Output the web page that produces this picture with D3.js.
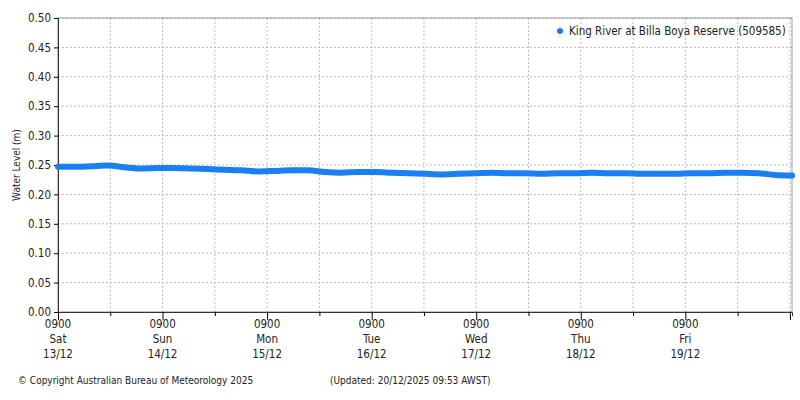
<!DOCTYPE html>
<html><head><meta charset="utf-8">
<script src="https://cdn.jsdelivr.net/npm/d3@7"></script>
<style>body{margin:0;background:#fff}text{font-family:"DejaVu Sans Condensed","DejaVu Sans",sans-serif}</style>
</head><body><svg id="c" width="800" height="400"></svg>
<script>
const seriesName = "King River at Billa Boya Reserve (509585)";
// readings every 6 hours starting 13/12 09:00
const levels = [0.247,0.247,0.248,0.249,0.246,0.244,0.245,0.245,0.244,0.243,0.242,0.241,0.239,0.240,0.241,0.241,0.238,0.237,0.238,0.238,0.237,0.236,0.235,0.234,0.235,0.236,0.237,0.236,0.236,0.235,0.236,0.236,0.237,0.236,0.236,0.235,0.235,0.235,0.236,0.236,0.237,0.237,0.236,0.233,0.232];
const yTicks = [0,0.05,0.10,0.15,0.20,0.25,0.30,0.35,0.40,0.45,0.50];
const dayLabels = [["Sat","13/12"],["Sun","14/12"],["Mon","15/12"],["Tue","16/12"],["Wed","17/12"],["Thu","18/12"],["Fri","19/12"]];

const svg = d3.select("#c");
const L=58,R=792,T=18,B=312;
const x = d3.scaleLinear().domain([0,7.02*24]).range([L,R]);
const y = d3.scaleLinear().domain([0,0.5]).range([B,T]);
const g = svg.append("g");
// grid
g.selectAll(".hg").data(yTicks).join("line").attr("x1",L).attr("x2",R).attr("y1",d=>y(d)).attr("y2",d=>y(d)).attr("stroke","#bbb").attr("stroke-dasharray","2,2");
const xt = dayLabels.map((d,i)=>i*24);
const sub=[];for(let h=0;h<=168;h+=12)sub.push(h);
g.selectAll(".vg").data(sub).join("line").attr("y1",T).attr("y2",B).attr("x1",d=>x(d)).attr("x2",d=>x(d)).attr("stroke","#bbb").attr("stroke-dasharray","2,2");
g.append("rect").attr("x",L).attr("y",T).attr("width",R-L).attr("height",B-T).attr("fill","none").attr("stroke","#999");
// axes
const ya = svg.append("g").attr("transform",`translate(${L},0)`).call(d3.axisLeft(y).tickValues(yTicks).tickFormat(d3.format(".2f")).tickSize(4));
ya.select(".domain").attr("stroke","#333");
ya.selectAll("text").attr("font-size",11.5).attr("fill","#222");
const xa = svg.append("g").attr("transform",`translate(0,${B})`).call(d3.axisBottom(x).tickValues(sub).tickFormat("").tickSize(4));
xa.select(".domain").attr("stroke","#333");
xa.selectAll(".tick").filter(d=>d%24==0).select("line").attr("y2",8);
dayLabels.forEach((d,i)=>{
  const t=svg.append("text").attr("x",x(i*24)).attr("y",B+16).attr("text-anchor","middle").attr("font-size",11.5).attr("fill","#222");
  ["0900",d[0],d[1]].forEach((s,k)=>t.append("tspan").attr("x",x(i*24)).attr("dy",k?15:0).text(s));
});
svg.append("text").attr("transform","translate(20,165) rotate(-90)").attr("text-anchor","middle").attr("font-size",10).attr("font-family","DejaVu Sans Mono").attr("fill","#222").text("Water Level (m)");
// data
const pts = levels.map((v,i)=>[i*3*24/24*1.25 ,v]);
const data = levels.map((v,i)=>({h:i*(168.5/(levels.length-1)),v}));
svg.append("path").datum(data).attr("fill","none").attr("stroke","#1a7ff0").attr("stroke-width",6).attr("stroke-linecap","round")
  .attr("d",d3.line().x(d=>x(d.h)).y(d=>y(d.v)).curve(d3.curveMonotoneX));
// legend
svg.append("circle").attr("cx",560).attr("cy",31).attr("r",3).attr("fill","#1a7ff0");
svg.append("text").attr("x",569).attr("y",35).attr("font-size",11.5).attr("fill","#222").text(seriesName);
svg.append("text").attr("x",18).attr("y",384).attr("font-size",10).attr("fill","#222").text("© Copyright Australian Bureau of Meteorology 2025");
svg.append("text").attr("x",330).attr("y",384).attr("font-size",10).attr("fill","#222").text("(Updated: 20/12/2025 09:53 AWST)");
</script></body></html>
